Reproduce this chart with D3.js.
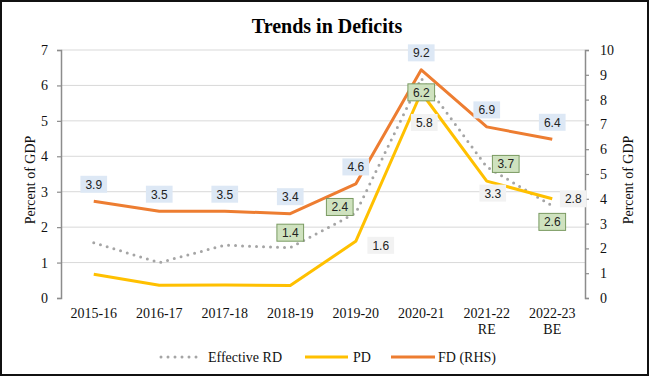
<!DOCTYPE html>
<html>
<head>
<meta charset="utf-8">
<script src="https://cdn.jsdelivr.net/npm/d3@7"></script>
<style>
  html, body { margin: 0; padding: 0; background: #fff; }
  svg { display: block; }
</style>
</head>
<body>
<svg id="chart" width="650" height="377"></svg>
<script>
// ---- data ----
const categories = ["2015-16", "2016-17", "2017-18", "2018-19", "2019-20", "2020-21", "2021-22\nRE", "2022-23\nBE"];
const effectiveRD = [1.56, 1.0, 1.49, 1.42, 2.4, 6.2, 3.7, 2.6];
const pd = [0.67, 0.36, 0.37, 0.35, 1.6, 5.8, 3.3, 2.8];
const fd = [3.9, 3.5, 3.5, 3.4, 4.6, 9.2, 6.9, 6.4];
const leftTicks = [0, 1, 2, 3, 4, 5, 6, 7];
const rightTicks = [0, 1, 2, 3, 4, 5, 6, 7, 8, 9, 10];
// which points get a data label (index list per series)
const erdLabelIdx = [3, 4, 5, 6, 7];
const pdLabelIdx = [4, 5, 6, 7];
const fdLabelIdx = [0, 1, 2, 3, 4, 5, 6, 7];
// label offsets (dx, dy) relative to the point
const erdLabelOff = {3: [0, -15], 4: [-16, -6], 5: [0, 14], 6: [19, -3], 7: [0, 16]};
const pdLabelOff = {4: [25, 4], 5: [3, 30], 6: [6, 12], 7: [21, 0]};
const fdLabelOff = [0, -17];

const svg = d3.select("#chart");
const W = 650, H = 377;
const plot = {left: 61, right: 585, top: 50, bottom: 298};

const x = d3.scalePoint().domain(categories).range([plot.left, plot.right]).padding(0.5);
const yL = d3.scaleLinear().domain([0, 7]).range([plot.bottom, plot.top]);
const yR = d3.scaleLinear().domain([0, 10]).range([plot.bottom, plot.top]);

const serif = "'Liberation Serif', 'Times New Roman', serif";
const sans = "'Liberation Sans', Arial, sans-serif";
const axisColor = "#8c8c8c";

// frame
svg.append("rect").attr("x", 1).attr("y", 1).attr("width", W - 3).attr("height", H - 3)
  .attr("fill", "#fff").attr("stroke", "#111").attr("stroke-width", 2);

// title
svg.append("text").attr("x", 327).attr("y", 33).attr("text-anchor", "middle")
  .attr("font-family", serif).attr("font-weight", "bold").attr("font-size", 20)
  .attr("fill", "#000").text("Trends in Deficits");

// gridlines
svg.append("g").selectAll("line").data(leftTicks.filter(d => d > 0)).join("line")
  .attr("x1", plot.left).attr("x2", plot.right)
  .attr("y1", d => yL(d)).attr("y2", d => yL(d))
  .attr("stroke", "#d9d9d9").attr("stroke-width", 1);

// left axis
const gL = svg.append("g").attr("transform", `translate(${plot.left},0)`)
  .call(d3.axisLeft(yL).tickValues(leftTicks).tickFormat(d3.format("d")).tickSize(4).tickPadding(9));
// right axis
const gR = svg.append("g").attr("transform", `translate(${plot.right},0)`)
  .call(d3.axisRight(yR).tickValues(rightTicks).tickFormat(d3.format("d")).tickSize(4).tickPadding(11));
[gL, gR].forEach(g => {
  g.select(".domain").attr("stroke", axisColor).attr("stroke-width", 1.5);
  g.selectAll(".tick line").attr("stroke", axisColor).attr("stroke-width", 1.2);
  g.selectAll(".tick text").attr("font-family", serif).attr("font-size", 14).attr("fill", "#111");
});

// x labels
const xl = svg.append("g");
categories.forEach(c => {
  const parts = c.split("\n");
  const t = xl.append("text").attr("x", x(c)).attr("y", 318).attr("text-anchor", "middle")
    .attr("font-family", serif).attr("font-size", 14).attr("fill", "#111");
  parts.forEach((p, i) => {
    t.append("tspan").attr("x", x(c)).attr("dy", i === 0 ? 0 : 16).text(p);
  });
});

// axis titles
svg.append("text").attr("transform", `translate(35,180) rotate(-90)`).attr("text-anchor", "middle")
  .attr("font-family", serif).attr("font-size", 14).attr("fill", "#111").text("Percent of GDP");
svg.append("text").attr("transform", `translate(633,180) rotate(-90)`).attr("text-anchor", "middle")
  .attr("font-family", serif).attr("font-size", 14).attr("fill", "#111").text("Percent of GDP");

// lines
const lineL = d3.line().x((d, i) => x(categories[i])).y(d => yL(d));
const lineR = d3.line().x((d, i) => x(categories[i])).y(d => yR(d));

svg.append("path").datum(fd).attr("d", lineR).attr("fill", "none")
  .attr("stroke", "#ED7D31").attr("stroke-width", 3).attr("stroke-linejoin", "round");
svg.append("path").datum(effectiveRD).attr("d", lineL).attr("fill", "none")
  .attr("stroke", "#a5a5a5").attr("stroke-width", 3).attr("stroke-dasharray", "0,7")
  .attr("stroke-linecap", "round");
svg.append("path").datum(pd).attr("d", lineL).attr("fill", "none")
  .attr("stroke", "#FFC000").attr("stroke-width", 3).attr("stroke-linejoin", "round");

// data labels
function label(cx, cy, txt, fill, stroke) {
  const g = svg.append("g");
  const t = g.append("text").attr("x", cx).attr("y", cy + 4.5).attr("text-anchor", "middle")
    .attr("font-family", sans).attr("font-size", 12).attr("fill", "#222").text(txt);
  const w = t.node().getComputedTextLength() + 10;
  g.insert("rect", "text").attr("x", cx - w / 2).attr("y", cy - 8.5).attr("width", w).attr("height", 17)
    .attr("fill", fill).attr("stroke", stroke || "none").attr("stroke-width", stroke ? 1 : 0);
}
fdLabelIdx.forEach(i => {
  label(x(categories[i]) + fdLabelOff[0], yR(fd[i]) + fdLabelOff[1], d3.format(".1f")(fd[i]), "#dde8f5");
});
pdLabelIdx.forEach(i => {
  const o = pdLabelOff[i];
  label(x(categories[i]) + o[0], yL(pd[i]) + o[1], d3.format(".1f")(pd[i]), "#f2f2f2");
});
erdLabelIdx.forEach(i => {
  const o = erdLabelOff[i];
  label(x(categories[i]) + o[0], yL(effectiveRD[i]) + o[1], d3.format(".1f")(effectiveRD[i]), "#cfe2bf", "#7a9a62");
});

// legend
const ly = 357;
const lg = svg.append("g");
lg.append("line").attr("x1", 161).attr("x2", 203).attr("y1", ly).attr("y2", ly)
  .attr("stroke", "#a5a5a5").attr("stroke-width", 3).attr("stroke-dasharray", "0,7").attr("stroke-linecap", "round");
lg.append("text").attr("x", 208).attr("y", ly + 5).attr("font-family", serif).attr("font-size", 14).attr("fill", "#111").text("Effective RD");
lg.append("line").attr("x1", 305).attr("x2", 348).attr("y1", ly).attr("y2", ly)
  .attr("stroke", "#FFC000").attr("stroke-width", 3);
lg.append("text").attr("x", 353).attr("y", ly + 5).attr("font-family", serif).attr("font-size", 14).attr("fill", "#111").text("PD");
lg.append("line").attr("x1", 391).attr("x2", 435).attr("y1", ly).attr("y2", ly)
  .attr("stroke", "#ED7D31").attr("stroke-width", 3);
lg.append("text").attr("x", 438).attr("y", ly + 5).attr("font-family", serif).attr("font-size", 14).attr("fill", "#111").text("FD (RHS)");
</script>
</body>
</html>
